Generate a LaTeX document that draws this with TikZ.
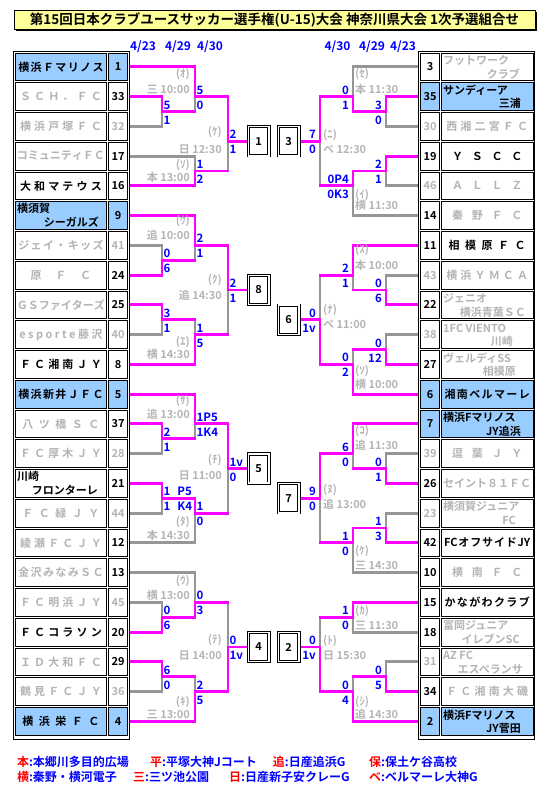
\documentclass[tikz,border=0pt]{standalone}
\usepackage{fontspec}
\setmainfont{Noto Sans CJK JP}[BoldFont={* Bold}]
\definecolor{pk}{RGB}{255,0,255}
\definecolor{gl}{RGB}{150,150,150}
\definecolor{gt}{RGB}{180,180,180}
\definecolor{sb}{RGB}{153,204,255}
\definecolor{sc}{RGB}{0,0,255}
\definecolor{ty}{RGB}{255,255,153}
\definecolor{rd}{RGB}{255,0,0}
\def\dsp#1{\dspA#1\relax}
\def\dspA#1{\ifx\relax#1\hfil\else\hfil#1\expandafter\dspA\fi}
\def\lT{130.5}\def\lA{162}\def\lB{195}\def\lC{228}\def\lX{247}
\def\rT{417.5}\def\rA{386}\def\rB{353}\def\rC{320}\def\rX{301}
\newcommand\Lcell[4]{%
 \node[cellbox,fill=#2,minimum width=91.6pt] (ln#1) at (60.9,{52+29.75*#1+14.875}) {};
 \node[cellbox,fill=#2,minimum width=19.4pt,text=#4] (lk#1) at (118,{52+29.75*#1+14.875}) {#3};}
\newcommand\Lname[3]{\node[nm,text=#2] (lt#1) at (60.9,{52+29.75*#1+14.875}) {\hbox to 88pt{\dsp{#3}}};}
\newcommand\Ltwo[5]{%
 \node[nm,text=#2,anchor=base west] (lt#1a) at (17,{52+29.75*#1+12.2}) {#3};
 \node[nm,text=#2,anchor=base east] (lt#1b) at (#5,{52+29.75*#1+26}) {#4};}
\newcommand\Rcell[4]{%
 \node[cellbox,fill=#2,minimum width=19.4pt,text=#4] (rk#1) at (430,{52+29.75*#1+14.875}) {#3};
 \node[cellbox,fill=#2,minimum width=91.6pt] (rn#1) at (487.2,{52+29.75*#1+14.875}) {};}
\newcommand\Rname[3]{\node[nm,text=#2] (rt#1) at (487.2,{52+29.75*#1+14.875}) {\hbox to 88pt{\dsp{#3}}};}
\newcommand\Rtwo[5]{%
 \node[nm,text=#2,anchor=base west] (rt#1a) at (443,{52+29.75*#1+12.7}) {#3};
 \node[nm,text=#2,anchor=base east] (rt#1b) at (#5,{52+29.75*#1+26.2}) {#4};}
\newcommand\SL[5]{%
 \node[score,anchor=base west] (#1u) at ({#2+1.5},{52+14.875*#3-2.5}) {#4};
 \node[score,anchor=base west] (#1d) at ({#2+1.5},{52+14.875*#3+12.5}) {#5};}
\newcommand\SR[5]{%
 \node[score,anchor=base east] (#1u) at ({#2-4},{52+14.875*#3-2.5}) {#4};
 \node[score,anchor=base east] (#1d) at ({#2-4},{52+14.875*#3+12.5}) {#5};}
\newcommand\LL[6]{%
 \node[info,anchor=base east] (#1a) at (#2,{#3+3.9}) {#4};
 \node[info,anchor=base east] (#1b) at (#2,{#5+3.9}) {#6};}
\newcommand\LR[6]{%
 \node[info,anchor=base west] (#1a) at (#2,{#3+3.9}) {#4};
 \node[info,anchor=base west] (#1b) at (#2,{#5+3.9}) {#6};}
\begin{document}
\begin{tikzpicture}[x=1pt,y=-1pt,
 win/.style={draw=pk,line width=2.9pt,line cap=rect,line join=miter},
 lose/.style={draw=gl,line width=2.9pt,line cap=rect,line join=miter},
 cellbox/.style={draw=black,line width=0.75pt,minimum height=27.8pt,inner sep=0pt,font=\bfseries\fontsize{11}{12}\selectfont},
 nm/.style={inner sep=0pt,font=\bfseries\fontsize{11}{12}\selectfont},
 score/.style={inner sep=0pt,text=sc,font=\bfseries\fontsize{11.5}{12}\selectfont},
 info/.style={inner sep=0pt,text=gt,font=\bfseries\fontsize{11}{12}\selectfont},
 fbox/.style={draw=black,fill=white,line width=0.8pt,double=white,double distance=1.6pt,minimum width=20.6pt,minimum height=29.2pt,inner sep=0pt,font=\bfseries\fontsize{11}{12}\selectfont},
 date/.style={inner sep=0pt,text=sc,font=\bfseries\fontsize{12}{12}\selectfont},
 leg/.style={inner sep=0pt,text=sc,font=\bfseries\fontsize{12}{12}\selectfont}]
\useasboundingbox (0,0) rectangle (548,792);
% title
\fill[black] (15.6,12) rectangle (536.6,31.3);
\node[draw=black,fill=ty,line width=0.8pt,minimum width=521pt,minimum height=19.2pt,inner sep=0pt,font=\bfseries\fontsize{13.5}{14}\selectfont] (title) at (274.5,20.1) {第15回日本クラブユースサッカー選手権(U-15)大会 神奈川県大会 1次予選組合せ};
% dates
\node[date] (dl1) at (143,46.5) {4/23};
\node[date] (dl2) at (178,46.5) {4/29};
\node[date] (dl3) at (210,46.5) {4/30};
\node[date] (dr1) at (337.5,46.5) {4/30};
\node[date] (dr2) at (372,46.5) {4/29};
\node[date] (dr3) at (403,46.5) {4/23};
% bracket lines
\begin{scope}[yshift=-52pt,y=-14.875pt]
% losers (gray)
\draw[lose] (\lT,5)--(\lA,5)--(\lA,4);
\draw[lose] (\lB,4)--(\lB,3);
\draw[lose] (\lT,7)--(\lB,7)--(\lB,8);
\draw[lose] (\lC,8)--(\lC,6);
\draw[lose] (\lT,13)--(\lA,13)--(\lA,14);
\draw[lose] (\lB,14)--(\lB,13);
\draw[lose] (\lT,19)--(\lA,19)--(\lA,18);
\draw[lose] (\lB,18)--(\lB,19);
\draw[lose] (\lC,19)--(\lC,16);
\draw[lose] (\lT,27)--(\lA,27)--(\lA,26);
\draw[lose] (\lB,26)--(\lB,25);
\draw[lose] (\lT,31)--(\lA,31)--(\lA,30);
\draw[lose] (\lT,33)--(\lB,33)--(\lB,31);
\draw[lose] (\lC,31)--(\lC,28);
\draw[lose] (\lT,35)--(\lB,35)--(\lB,37);
\draw[lose] (\lT,37)--(\lA,37)--(\lA,38);
\draw[lose] (\lT,43)--(\lA,43)--(\lA,42);
\draw[lose] (\lB,42)--(\lB,43);
\draw[lose] (\lC,37)--(\lC,40);
\draw[lose] (\rT,1)--(\rB,1)--(\rB,3);
\draw[lose] (\rT,5)--(\rA,5)--(\rA,4);
\draw[lose] (\rT,9)--(\rA,9)--(\rA,8);
\draw[lose] (\rT,11)--(\rB,11)--(\rB,9);
\draw[lose] (\rC,9)--(\rC,6);
\draw[lose] (\rT,15)--(\rA,15)--(\rA,16);
\draw[lose] (\rB,16)--(\rB,15);
\draw[lose] (\rT,19)--(\rA,19)--(\rA,20);
\draw[lose] (\rB,20)--(\rB,21);
\draw[lose] (\rC,15)--(\rC,18);
\draw[lose] (\rT,27)--(\rA,27)--(\rA,28);
\draw[lose] (\rB,28)--(\rB,27);
\draw[lose] (\rT,31)--(\rA,31)--(\rA,32);
\draw[lose] (\rT,35)--(\rB,35)--(\rB,33);
\draw[lose] (\rC,33)--(\rC,30);
\draw[lose] (\rT,39)--(\rB,39)--(\rB,38);
\draw[lose] (\rT,41)--(\rA,41)--(\rA,42);
\draw[lose] (\rB,42)--(\rB,43);
\draw[lose] (\rC,38)--(\rC,40);
% winners (magenta)
\draw[win] (\lT,3)--(\lA,3)--(\lA,4)--(\lB,4);
\draw[win] (\lT,1)--(\lB,1)--(\lB,3)--(\lC,3)--(\lC,6)--(\lX,6);
\draw[win] (\lT,9)--(\lB,9)--(\lB,8)--(\lC,8);
\draw[win] (\lT,15)--(\lA,15)--(\lA,14)--(\lB,14);
\draw[win] (\lT,11)--(\lB,11)--(\lB,13)--(\lC,13)--(\lC,16)--(\lX,16);
\draw[win] (\lT,17)--(\lA,17)--(\lA,18)--(\lB,18);
\draw[win] (\lT,21)--(\lB,21)--(\lB,19)--(\lC,19);
\draw[win] (\lT,25)--(\lA,25)--(\lA,26)--(\lB,26);
\draw[win] (\lT,23)--(\lB,23)--(\lB,25)--(\lC,25)--(\lC,28)--(\lX,28);
\draw[win] (\lT,29)--(\lA,29)--(\lA,30)--(\lB,30)--(\lB,31)--(\lC,31);
\draw[win] (\lT,39)--(\lA,39)--(\lA,38)--(\lB,38)--(\lB,37)--(\lC,37);
\draw[win] (\lT,41)--(\lA,41)--(\lA,42)--(\lB,42);
\draw[win] (\lT,45)--(\lB,45)--(\lB,43)--(\lC,43)--(\lC,40)--(\lX,40);
\draw[win] (\rT,3)--(\rA,3)--(\rA,4)--(\rB,4)--(\rB,3)--(\rC,3)--(\rC,6)--(\rX,6);
\draw[win] (\rT,7)--(\rA,7)--(\rA,8)--(\rB,8)--(\rB,9)--(\rC,9);
\draw[win] (\rT,17)--(\rA,17)--(\rA,16)--(\rB,16);
\draw[win] (\rT,13)--(\rB,13)--(\rB,15)--(\rC,15);
\draw[win] (\rT,21)--(\rA,21)--(\rA,20)--(\rB,20);
\draw[win] (\rT,23)--(\rB,23)--(\rB,21)--(\rC,21)--(\rC,18)--(\rX,18);
\draw[win] (\rT,29)--(\rA,29)--(\rA,28)--(\rB,28);
\draw[win] (\rT,25)--(\rB,25)--(\rB,27)--(\rC,27)--(\rC,30)--(\rX,30);
\draw[win] (\rT,33)--(\rA,33)--(\rA,32)--(\rB,32)--(\rB,33)--(\rC,33);
\draw[win] (\rT,37)--(\rB,37)--(\rB,38)--(\rC,38);
\draw[win] (\rT,43)--(\rA,43)--(\rA,42)--(\rB,42);
\draw[win] (\rT,45)--(\rB,45)--(\rB,43)--(\rC,43)--(\rC,40)--(\rX,40);
\end{scope}
% result boxes
\node[fbox] (b1) at (258.7,{52+14.875*6}) {1};
\node[fbox] (b3) at (288.7,{52+14.875*6}) {3};
\node[fbox] (b8) at (258.7,{52+14.875*16}) {8};
\node[fbox] (b6) at (288.7,{52+14.875*18}) {6};
\node[fbox] (b5) at (258.7,{52+14.875*28}) {5};
\node[fbox] (b7) at (288.7,{52+14.875*30}) {7};
\node[fbox] (b4) at (258.7,{52+14.875*40}) {4};
\node[fbox] (b2) at (288.7,{52+14.875*40}) {2};
% tables
\draw[line width=0.8pt] (13.3,51.7) rectangle (129.3,739.3);
\draw[line width=0.8pt] (418.7,51.7) rectangle (534.7,739.3);
\Lcell{0}{sb}{1}{black}\Lname{0}{black}{横浜Ｆマリノス}
\Lcell{1}{white}{33}{black}\Lname{1}{gt}{ＳＣＨ．ＦＣ}
\Lcell{2}{white}{32}{gt}\Lname{2}{gt}{横浜戸塚ＦＣ}
\Lcell{3}{white}{17}{black}\Lname{3}{gt}{コミュニティＦＣ}
\Lcell{4}{white}{16}{black}\Lname{4}{black}{大和マテウス}
\Lcell{5}{sb}{9}{black}\Ltwo{5}{black}{横須賀}{シーガルズ}{99}
\Lcell{6}{white}{41}{gt}\Lname{6}{gt}{ジェイ・キッズ}
\Lcell{7}{white}{24}{black}\Lname{7}{gt}{原ＦＣ}
\Lcell{8}{white}{25}{black}\Lname{8}{gt}{ＧＳファイターズ}
\Lcell{9}{white}{40}{gt}\Lname{9}{gt}{esporte藤沢}
\Lcell{10}{white}{8}{black}\Lname{10}{black}{ＦＣ湘南ＪＹ}
\Lcell{11}{sb}{5}{black}\Lname{11}{black}{横浜新井ＪＦＣ}
\Lcell{12}{white}{37}{black}\Lname{12}{gt}{八ツ橋ＳＣ}
\Lcell{13}{white}{28}{gt}\Lname{13}{gt}{ＦＣ厚木ＪＹ}
\Lcell{14}{white}{21}{black}\Ltwo{14}{black}{川崎}{フロンターレ}{98}
\Lcell{15}{white}{44}{gt}\Lname{15}{gt}{ＦＣ緑ＪＹ}
\Lcell{16}{white}{12}{black}\Lname{16}{gt}{綾瀬ＦＣＪＹ}
\Lcell{17}{white}{13}{black}\Lname{17}{gt}{金沢みなみＳＣ}
\Lcell{18}{white}{45}{gt}\Lname{18}{gt}{ＦＣ明浜ＪＹ}
\Lcell{19}{white}{20}{black}\Lname{19}{black}{ＦＣコラソン}
\Lcell{20}{white}{29}{black}\Lname{20}{gt}{ＩＤ大和ＦＣ}
\Lcell{21}{white}{36}{gt}\Lname{21}{gt}{鶴見ＦＣＪＹ}
\Lcell{22}{sb}{4}{black}\Lname{22}{black}{横浜栄ＦＣ}
\Rcell{0}{white}{3}{black}\Rtwo{0}{gt}{フットワーク}{クラブ}{520}
\Rcell{1}{sb}{35}{black}\Rtwo{1}{black}{サンディーア}{三浦}{521}
\Rcell{2}{white}{30}{gt}\Rname{2}{gt}{西湘二宮ＦＣ}
\Rcell{3}{white}{19}{black}\Rname{3}{black}{ＹＳＣＣ}
\Rcell{4}{white}{46}{gt}\Rname{4}{gt}{ＡＬＬＺ}
\Rcell{5}{white}{14}{black}\Rname{5}{gt}{秦野ＦＣ}
\Rcell{6}{white}{11}{black}\Rname{6}{black}{相模原ＦＣ}
\Rcell{7}{white}{43}{gt}\Rname{7}{gt}{横浜ＹＭＣＡ}
\Rcell{8}{white}{22}{black}\Rtwo{8}{gt}{ジェニオ}{横浜青葉ＳＣ}{526}
\Rcell{9}{white}{38}{gt}\Rtwo{9}{gt}{1FC VIENTO}{川崎}{513}
\Rcell{10}{white}{27}{black}\Rtwo{10}{gt}{ヴェルディSS}{相模原}{516}
\Rcell{11}{sb}{6}{black}\Rname{11}{black}{湘南ベルマーレ}
\Rcell{12}{sb}{7}{black}\Rtwo{12}{black}{横浜Fマリノス}{JY追浜}{521}
\Rcell{13}{white}{39}{gt}\Rname{13}{gt}{逗葉ＪＹ}
\Rcell{14}{white}{26}{black}\Rname{14}{gt}{セイント８１ＦＣ}
\Rcell{15}{white}{23}{gt}\Rtwo{15}{gt}{横須賀ジュニア}{FC}{516}
\Rcell{16}{white}{42}{black}\Rname{16}{black}{{FC}オフサイド{JY}}
\Rcell{17}{white}{10}{black}\Rname{17}{gt}{横南ＦＣ}
\Rcell{18}{white}{15}{black}\Rname{18}{black}{かながわクラブ}
\Rcell{19}{white}{18}{black}\Rtwo{19}{gt}{富岡ジュニア}{イレブンSC}{520}
\Rcell{20}{white}{31}{gt}\Rtwo{20}{gt}{AZ FC}{エスペランサ}{523}
\Rcell{21}{white}{34}{black}\Rname{21}{gt}{ＦＣ湘南大磯}
\Rcell{22}{sb}{2}{black}\Rtwo{22}{black}{横浜Fマリノス}{JY菅田}{521}
% scores
\SL{a1}{\lA}{4}{5}{1}
\SL{a2}{\lB}{3}{5}{0}
\SL{a3}{\lB}{8}{1}{2}
\SL{a4}{\lC}{6}{2}{1}
\SL{a5}{\lA}{14}{0}{6}
\SL{a6}{\lB}{13}{2}{1}
\SL{a7}{\lA}{18}{3}{1}
\SL{a8}{\lB}{19}{1}{5}
\SL{a9}{\lC}{16}{2}{1}
\SL{a10}{\lA}{26}{2}{1}
\SL{a11}{\lB}{25}{1P5}{1K4}
\SL{a12}{\lA}{30}{1\hspace{7pt}P5}{1\hspace{7pt}K4}
\SL{a13}{\lB}{31}{1}{0}
\SL{a14}{\lC}{28}{1v}{0}
\SL{a15}{\lA}{38}{0}{6}
\SL{a16}{\lB}{37}{0}{3}
\SL{a17}{\lA}{42}{6}{0}
\SL{a18}{\lB}{43}{2}{5}
\SL{a19}{\lC}{40}{0}{1v}
\SR{b1}{\rB}{3}{0}{1}
\SR{b2}{\rA}{4}{3}{0}
\SR{b3}{\rC}{6}{7}{0}
\SR{b4}{\rA}{8}{2}{1}
\SR{b5}{\rB}{9}{0P4}{0K3}
\SR{b6}{\rB}{15}{2}{1}
\SR{b7}{\rA}{16}{0}{6}
\SR{b8}{\rC}{18}{0}{1v}
\SR{b9}{\rA}{20}{0}{12}
\SR{b10}{\rB}{21}{0}{2}
\SR{b11}{\rB}{27}{6}{0}
\SR{b12}{\rA}{28}{0}{1}
\SR{b13}{\rC}{30}{9}{0}
\SR{b14}{\rA}{32}{1}{3}
\SR{b15}{\rB}{33}{1}{0}
\SR{b16}{\rB}{38}{1}{0}
\SR{b17}{\rC}{40}{0}{1v}
\SR{b18}{\rA}{42}{0}{5}
\SR{b19}{\rB}{43}{0}{4}
% match labels
\LL{c1}{190}{74}{(ｵ)}{89.3}{三 10:00}
\LL{c2}{190}{165}{(ｿ)}{178}{本 13:00}
\LL{c3}{222}{131.7}{(ｹ)}{149.3}{日 12:30}
\LL{c4}{190}{220.7}{(ｳ)}{235.7}{追 10:00}
\LL{c5}{190}{341.7}{(ｴ)}{355}{横 14:30}
\LL{c6}{222}{280}{(ｸ)}{296}{追 14:30}
\LL{c7}{190}{400.7}{(ｻ)}{415}{追 13:00}
\LL{c8}{190}{521.7}{(ﾀ)}{535.7}{本 14:30}
\LL{c9}{222}{460}{(ﾁ)}{476}{日 11:00}
\LL{c10}{190}{580.7}{(ｳ)}{595.7}{横 13:00}
\LL{c11}{190}{701.7}{(ｷ)}{715}{三 13:00}
\LL{c12}{222}{640}{(ﾃ)}{656}{日 14:00}
\LR{d1}{355}{74}{(ｾ)}{89.3}{本 11:30}
\LR{d2}{323}{135}{(ﾆ)}{149.3}{ベ 12:30}
\LR{d3}{355}{195}{(ｲ)}{206}{横 11:30}
\LR{d4}{355}{250}{(ｽ)}{265.7}{本 10:00}
\LR{d5}{323}{310}{(ﾅ)}{325}{ベ 11:00}
\LR{d6}{355}{371}{(ｿ)}{385}{横 10:00}
\LR{d7}{355}{430.7}{(ｺ)}{445.7}{追 11:30}
\LR{d8}{323}{490}{(ﾇ)}{505}{追 13:00}
\LR{d9}{355}{551}{(ｹ)}{565.7}{三 14:30}
\LR{d10}{355}{610.7}{(ｶ)}{625.7}{三 11:30}
\LR{d11}{323}{640.7}{(ﾄ)}{655.7}{日 15:30}
\LR{d12}{355}{701.7}{(ｼ)}{715}{追 14:30}
% legend
\node[leg,anchor=base west] (lg1) at (16.8,766.3) {\textcolor{rd}{本}:本郷川多目的広場};
\node[leg,anchor=base west] (lg2) at (150,766.3) {\textcolor{rd}{平}:平塚大神Jコート};
\node[leg,anchor=base west] (lg3) at (272.7,766.3) {\textcolor{rd}{追}:日産追浜G};
\node[leg,anchor=base west] (lg4) at (369,766.3) {\textcolor{rd}{保}:保土ケ谷高校};
\node[leg,anchor=base west] (lg5) at (16.8,781.3) {\textcolor{rd}{横}:秦野・横河電子};
\node[leg,anchor=base west] (lg6) at (132.9,781.3) {\textcolor{rd}{三}:三ツ池公園};
\node[leg,anchor=base west] (lg7) at (229,781.3) {\textcolor{rd}{日}:日産新子安クレーG};
\node[leg,anchor=base west] (lg8) at (369,781.3) {\textcolor{rd}{ベ}:ベルマーレ大神G};
\end{tikzpicture}
\end{document}
